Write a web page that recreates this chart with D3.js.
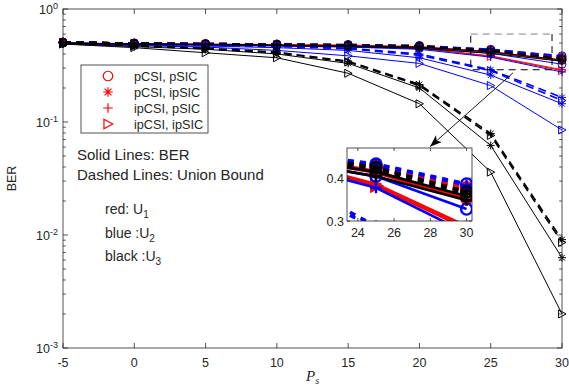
<!DOCTYPE html>
<html>
<head>
<meta charset="utf-8">
<script src="https://cdn.jsdelivr.net/npm/d3@7/dist/d3.min.js"></script>
<style>
  body { margin: 0; background: #fff; }
  text { font-family: "Liberation Sans", Arial, sans-serif; fill: #262626; }
</style>
</head>
<body>
<svg id="chart" width="569" height="387"></svg>
<script>
// x values (Ps)
const ps = [-5, 0, 5, 10, 15, 20, 25, 30];
const schemes = ["pCSI, pSIC", "pCSI, ipSIC", "ipCSI, pSIC", "ipCSI, ipSIC"];
const markerTypes = ["circle", "star", "plus", "tri"];
const userColors = ["#ff0000", "#0000ff", "#000000"];
const xTicks = [-5, 0, 5, 10, 15, 20, 25, 30];
const yTicks = [1, 0.1, 0.01, 0.001];
const yTickExp = ["0", "-1", "-2", "-3"];
const insetXTicks = [24, 26, 28, 30];
const insetYTicks = [0.3, 0.4];

// U1 (red) - rows follow schemes order
const berU1 = [
  [0.50, 0.495, 0.49, 0.485, 0.48, 0.465, 0.42, 0.35],
  [0.50, 0.49, 0.485, 0.48, 0.475, 0.46, 0.415, 0.345],
  [0.50, 0.49, 0.485, 0.475, 0.465, 0.45, 0.385, 0.29],
  [0.50, 0.49, 0.48, 0.475, 0.465, 0.45, 0.38, 0.285]
];
const ubU1 = [
  [0.51, 0.50, 0.495, 0.49, 0.485, 0.475, 0.435, 0.375],
  [0.51, 0.50, 0.495, 0.49, 0.48, 0.47, 0.43, 0.372],
  [0.51, 0.50, 0.495, 0.49, 0.48, 0.47, 0.43, 0.37],
  [0.51, 0.50, 0.49, 0.485, 0.475, 0.465, 0.428, 0.368]
];
// U2 (blue)
const berU2 = [
  [0.50, 0.49, 0.485, 0.475, 0.465, 0.45, 0.405, 0.325],
  [0.49, 0.48, 0.47, 0.455, 0.43, 0.37, 0.26, 0.145],
  [0.50, 0.49, 0.48, 0.47, 0.46, 0.44, 0.375, 0.277],
  [0.49, 0.475, 0.46, 0.43, 0.385, 0.33, 0.21, 0.085]
];
const ubU2 = [
  [0.51, 0.50, 0.495, 0.49, 0.485, 0.475, 0.44, 0.385],
  [0.50, 0.49, 0.48, 0.47, 0.45, 0.40, 0.29, 0.165],
  [0.51, 0.50, 0.495, 0.49, 0.48, 0.47, 0.438, 0.382],
  [0.50, 0.49, 0.48, 0.465, 0.445, 0.39, 0.285, 0.155]
];
// U3 (black)
const berU3 = [
  [0.50, 0.49, 0.485, 0.48, 0.47, 0.46, 0.417, 0.355],
  [0.49, 0.465, 0.44, 0.40, 0.33, 0.20, 0.062, 0.0063],
  [0.50, 0.49, 0.485, 0.475, 0.465, 0.45, 0.405, 0.345],
  [0.49, 0.455, 0.41, 0.37, 0.27, 0.145, 0.036, 0.002]
];
const ubU3 = [
  [0.51, 0.50, 0.49, 0.485, 0.48, 0.47, 0.43, 0.365],
  [0.50, 0.475, 0.45, 0.415, 0.345, 0.215, 0.079, 0.0091],
  [0.51, 0.50, 0.49, 0.485, 0.475, 0.465, 0.425, 0.36],
  [0.50, 0.47, 0.445, 0.41, 0.34, 0.21, 0.076, 0.0086]
];

const berAll = [berU1, berU2, berU3];
const ubAll = [ubU1, ubU2, ubU3];

// zoom box and arrow (data coords)
const zoomBox = { x0: 23.6, x1: 29.3, y0: 0.60, y1: 0.29 };
const arrowFrom = [26.56, 0.272];
const arrowTo = [20.74, 0.0605];

const svg = d3.select("#chart");
const m = { left: 63, right: 562, top: 9, bottom: 348 };

const x = d3.scaleLinear().domain([-5, 30]).range([m.left, m.right]);
const y = d3.scaleLog().domain([0.001, 1]).range([m.bottom, m.top]);

const axisColor = "#262626";

// marker drawing
function drawMarker(g, type, cx, cy, s, color, sw) {
  const h = s / 2;
  if (type === "circle") {
    g.append("circle").attr("cx", cx).attr("cy", cy).attr("r", h)
      .attr("fill", "none").attr("stroke", color).attr("stroke-width", sw);
  } else if (type === "plus") {
    g.append("path").attr("d", `M${cx - h},${cy}H${cx + h}M${cx},${cy - h}V${cy + h}`)
      .attr("stroke", color).attr("stroke-width", sw).attr("fill", "none");
  } else if (type === "star") {
    const d = h * 0.72;
    g.append("path").attr("d",
      `M${cx - h},${cy}H${cx + h}M${cx},${cy - h}V${cy + h}` +
      `M${cx - d},${cy - d}L${cx + d},${cy + d}M${cx - d},${cy + d}L${cx + d},${cy - d}`)
      .attr("stroke", color).attr("stroke-width", sw).attr("fill", "none");
  } else if (type === "tri") {
    g.append("path").attr("d",
      `M${cx - h * 0.85},${cy - h}L${cx + h},${cy}L${cx - h * 0.85},${cy + h}Z`)
      .attr("stroke", color).attr("stroke-width", sw).attr("fill", "none");
  }
}

// ---------- main axes ----------
const axG = svg.append("g");
axG.append("rect").attr("x", m.left).attr("y", m.top)
  .attr("width", m.right - m.left).attr("height", m.bottom - m.top)
  .attr("fill", "#fff");

// x ticks (inside, bottom and top)
xTicks.forEach(t => {
  const px = x(t);
  axG.append("line").attr("x1", px).attr("x2", px).attr("y1", m.bottom).attr("y2", m.bottom - 5)
    .attr("stroke", axisColor).attr("stroke-width", 0.8);
  axG.append("line").attr("x1", px).attr("x2", px).attr("y1", m.top).attr("y2", m.top + 5)
    .attr("stroke", axisColor).attr("stroke-width", 0.8);
  axG.append("text").attr("x", px).attr("y", m.bottom + 19)
    .attr("text-anchor", "middle").attr("font-size", 12.5).text(t);
});

// y ticks major + minor
yTicks.forEach((t, i) => {
  const py = y(t);
  [[m.left, 5], [m.right, -5]].forEach(([px, d]) => {
    axG.append("line").attr("x1", px).attr("x2", px + d).attr("y1", py).attr("y2", py)
      .attr("stroke", axisColor).attr("stroke-width", 0.8);
  });
  const tx = axG.append("text").attr("x", m.left - 5).attr("y", py + 5)
    .attr("text-anchor", "end").attr("font-size", 12.5);
  tx.append("tspan").text("10");
  tx.append("tspan").attr("dy", -5).attr("font-size", 9).text(yTickExp[i]);
});
[0.001, 0.01, 0.1].forEach(dec => {
  for (let k = 2; k <= 9; k++) {
    const py = y(dec * k);
    [[m.left, 2.8], [m.right, -2.8]].forEach(([px, d]) => {
      axG.append("line").attr("x1", px).attr("x2", px + d).attr("y1", py).attr("y2", py)
        .attr("stroke", axisColor).attr("stroke-width", 0.8);
    });
  }
});

// axis labels
svg.append("text").attr("transform", `translate(16,${(m.top + m.bottom) / 2}) rotate(-90)`)
  .attr("text-anchor", "middle").attr("font-size", 12.5).text("BER");
const xl = svg.append("text").attr("x", (m.left + m.right) / 2).attr("y", 381)
  .attr("text-anchor", "middle")
  .style("font-family", "'Liberation Serif', 'DejaVu Serif', serif")
  .attr("font-style", "italic").attr("font-size", 15);
xl.append("tspan").text("P");
xl.append("tspan").attr("dy", 3).attr("font-size", 10).text("s");

// ---------- curves ----------
const curveG = svg.append("g");
function drawCurves(g, sx, sy, opt) {
  const line = d3.line().x((d, i) => sx(ps[i])).y(d => sy(d));
  [0, 1, 2].forEach(u => {
    const col = userColors[u];
    [0, 1, 2, 3].forEach(s => {
      // union bound (dashed)
      g.append("path").datum(ubAll[u][s]).attr("d", line)
        .attr("fill", "none").attr("stroke", col).attr("stroke-width", opt.dashW)
        .attr("stroke-dasharray", opt.dash);
      // BER (solid)
      g.append("path").datum(berAll[u][s]).attr("d", line)
        .attr("fill", "none").attr("stroke", col).attr("stroke-width", opt.solidW);
      [berAll[u][s], ubAll[u][s]].forEach(arr => {
        arr.forEach((v, i) => {
          if (ps[i] < opt.xMin) return;
          drawMarker(g, markerTypes[s], sx(ps[i]), sy(v), opt.ms, col, opt.mw);
        });
      });
    });
  });
}
drawCurves(curveG, x, y, { solidW: 1, dashW: 1.6, dash: "8,5", ms: 8, mw: 1, xMin: -100 });

// box on top of curves
svg.append("rect").attr("x", m.left).attr("y", m.top)
  .attr("width", m.right - m.left).attr("height", m.bottom - m.top)
  .attr("fill", "none").attr("stroke", axisColor).attr("stroke-width", 0.8);

// ---------- zoom rectangle ----------
const zx0 = x(zoomBox.x0), zx1 = x(zoomBox.x1), zy0 = y(zoomBox.y0), zy1 = y(zoomBox.y1);
svg.append("path").attr("d", `M${zx1},${zy0}V${zy1}H${zx0}V${zy0}`)
  .attr("fill", "none").attr("stroke", "#000").attr("stroke-width", 1).attr("stroke-dasharray", "7,5");
svg.append("line").attr("x1", zx0).attr("x2", zx1).attr("y1", zy0).attr("y2", zy0)
  .attr("stroke", "#808080").attr("stroke-width", 1).attr("stroke-dasharray", "7,5");

// arrow
const a0 = [x(arrowFrom[0]), y(arrowFrom[1])], a1 = [x(arrowTo[0]), y(arrowTo[1])];
svg.append("line").attr("x1", a0[0]).attr("y1", a0[1]).attr("x2", a1[0]).attr("y2", a1[1])
  .attr("stroke", "#000").attr("stroke-width", 0.9);
{
  const ang = Math.atan2(a1[1] - a0[1], a1[0] - a0[0]);
  const L = 12, Wd = 4.5;
  const bx = a1[0] - L * Math.cos(ang), by = a1[1] - L * Math.sin(ang);
  const px = -Math.sin(ang) * Wd, py = Math.cos(ang) * Wd;
  svg.append("path")
    .attr("d", `M${a1[0]},${a1[1]}L${bx + px},${by + py}L${bx + L * 0.25 * Math.cos(ang)},${by + L * 0.25 * Math.sin(ang)}L${bx - px},${by - py}Z`)
    .attr("fill", "#000");
}

// ---------- inset ----------
const ix = d3.scaleLinear().domain([23.4, 30.3]).range([347, 472]);
const iy = d3.scaleLog().domain([0.3, 0.49]).range([221, 148]);
svg.append("clipPath").attr("id", "insetClip").append("rect")
  .attr("x", 347).attr("y", 148).attr("width", 125).attr("height", 73);
svg.append("rect").attr("x", 347).attr("y", 148).attr("width", 125).attr("height", 73).attr("fill", "#fff");
const inG = svg.append("g").attr("clip-path", "url(#insetClip)");
drawCurves(inG, ix, iy, { solidW: 2.6, dashW: 3.4, dash: "6,6", ms: 11, mw: 2.4, xMin: 23 });
svg.append("rect").attr("x", 347).attr("y", 148).attr("width", 125).attr("height", 73)
  .attr("fill", "none").attr("stroke", axisColor).attr("stroke-width", 0.8);
insetXTicks.forEach(t => {
  const px = ix(t);
  svg.append("line").attr("x1", px).attr("x2", px).attr("y1", 221).attr("y2", 218)
    .attr("stroke", axisColor).attr("stroke-width", 0.8);
  svg.append("line").attr("x1", px).attr("x2", px).attr("y1", 148).attr("y2", 151)
    .attr("stroke", axisColor).attr("stroke-width", 0.8);
  svg.append("text").attr("x", px).attr("y", 237).attr("text-anchor", "middle")
    .attr("font-size", 12.5).text(t);
});
insetYTicks.forEach(t => {
  const py = iy(t);
  svg.append("line").attr("x1", 347).attr("x2", 350).attr("y1", py).attr("y2", py)
    .attr("stroke", axisColor).attr("stroke-width", 0.8);
  svg.append("line").attr("x1", 472).attr("x2", 469).attr("y1", py).attr("y2", py)
    .attr("stroke", axisColor).attr("stroke-width", 0.8);
  svg.append("text").attr("x", 344).attr("y", py + 4.5).attr("text-anchor", "end")
    .attr("font-size", 12.5).text(t.toFixed(1));
});

// ---------- legend ----------
const lg = svg.append("g");
lg.append("rect").attr("x", 81).attr("y", 65).attr("width", 127).attr("height", 68)
  .attr("fill", "#fff").attr("stroke", axisColor).attr("stroke-width", 0.8);
schemes.forEach((s, i) => {
  const ly = 76 + i * 16;
  drawMarker(lg, markerTypes[i], 108, ly, 9.5, "#ff0000", 1.2);
  lg.append("text").attr("x", 134).attr("y", ly + 4.5).attr("font-size", 12.7).attr("fill", "#000").text(s);
});

// ---------- annotations ----------
const ann = svg.append("g");
ann.append("text").attr("x", 77).attr("y", 160).attr("font-size", 15).attr("fill", "#000").text("Solid Lines: BER");
ann.append("text").attr("x", 77).attr("y", 180).attr("font-size", 15).attr("fill", "#000").text("Dashed Lines: Union Bound");
[["red: U", "1", 214], ["blue :U", "2", 238], ["black :U", "3", 261]].forEach(([t, sub, yy]) => {
  const tx = ann.append("text").attr("x", 105).attr("y", yy).attr("font-size", 14).attr("fill", "#000");
  tx.append("tspan").text(t);
  tx.append("tspan").attr("dy", 4).attr("font-size", 10).text(sub);
});
</script>
</body>
</html>
